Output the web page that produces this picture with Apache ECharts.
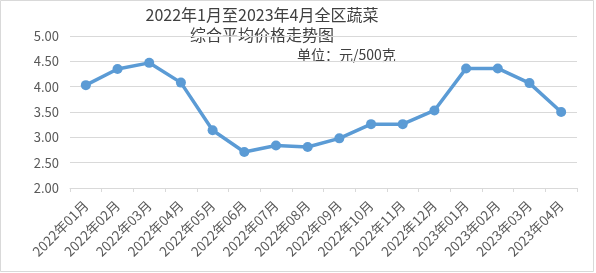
<!DOCTYPE html>
<html><head><meta charset="utf-8">
<script src="https://cdn.jsdelivr.net/npm/echarts@6/dist/echarts.min.js"></script>
<style>html,body{margin:0;padding:0;background:#fff}#c{width:596px;height:273px}</style>
</head><body><div id="c"></div>
<script>
const categories = ['2022年01月','2022年02月','2022年03月','2022年04月','2022年05月','2022年06月','2022年07月','2022年08月','2022年09月','2022年10月','2022年11月','2022年12月','2023年01月','2023年02月','2023年03月','2023年04月'];
const prices = [4.03, 4.35, 4.47, 4.08, 3.14, 2.71, 2.84, 2.81, 2.98, 3.26, 3.26, 3.53, 4.36, 4.36, 4.07, 3.50];
const titleLines = ['2022年1月至2023年4月全区蔬菜', '综合平均价格走势图'];
const unitText = '单位：元/500克';

const FONT = '"Noto Sans CJK SC", "Noto Sans", sans-serif';
const chart = echarts.init(document.getElementById('c'), null, {renderer: 'canvas'});
chart.setOption({
  animation: false,
  backgroundColor: '#fff',
  graphic: [
    {type: 'rect', shape: {x: 0.5, y: 0.5, width: 593, height: 271}, style: {fill: 'none', stroke: '#d9d9d9', lineWidth: 1}},
    {type: 'text', x: 262, y: 5, style: {text: titleLines.join('\n'), font: '16px ' + FONT, fill: '#404040', align: 'center', verticalAlign: 'top', lineHeight: 20}},
    {type: 'text', x: 297, y: 48, style: {text: unitText, font: '14px ' + FONT, fill: '#404040', verticalAlign: 'top'}}
  ],
  grid: {left: 70, right: 19, top: 36, bottom: 85, containLabel: false},
  xAxis: {
    type: 'category',
    data: categories,
    boundaryGap: true,
    axisLine: {lineStyle: {color: '#d9d9d9', width: 1}},
    axisTick: {show: true, length: 4, lineStyle: {color: '#d9d9d9'}},
    axisLabel: {rotate: 45, fontSize: 13.5, color: '#595959', fontFamily: FONT, margin: 15, interval: 0}
  },
  yAxis: {
    type: 'value',
    min: 2, max: 5, interval: 0.5,
    axisLine: {show: false},
    axisTick: {show: false},
    splitLine: {lineStyle: {color: '#d9d9d9', width: 1}},
    axisLabel: {formatter: v => v.toFixed(2), fontSize: 13, color: '#595959', fontFamily: FONT, margin: 11}
  },
  series: [{
    type: 'line',
    data: prices,
    symbol: 'circle',
    symbolSize: 10,
    lineStyle: {color: '#5b9bd5', width: 3.5},
    itemStyle: {color: '#5b9bd5'}
  }]
});
</script></body></html>
